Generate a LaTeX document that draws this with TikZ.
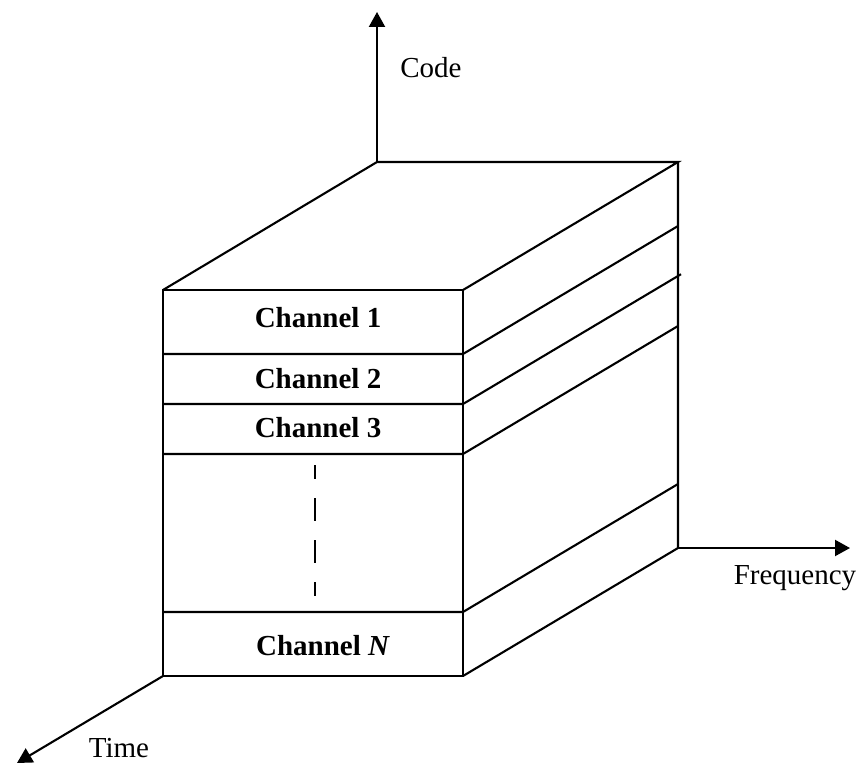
\documentclass[tikz,border=0pt]{standalone}
\usepackage{fontspec}
\setmainfont{Liberation Serif}
\usetikzlibrary{arrows.meta}
\begin{document}
\begin{tikzpicture}[x=0.5pt,y=-0.5pt,
  edge/.style={draw=black, line width=1.05pt, line join=miter},
  axis/.style={edge,-{Triangle[length=7.5pt,width=8pt]}},
  chan/.style={font=\fontsize{14.5}{17}\selectfont\bfseries, inner sep=0pt, anchor=base},
  lab/.style={font=\fontsize{14.5}{17}\selectfont, inner sep=0pt, anchor=base},
  dashline/.style={draw=black, line width=1.05pt, dash pattern=on 11.5pt off 9.5pt, dash phase=4.5pt}]
\useasboundingbox (0,0) rectangle (860,764);
% front face corners
\coordinate (FTL) at (163,290);
\coordinate (FTR) at (463,290);
\coordinate (FBL) at (163,676);
\coordinate (FBR) at (463,676);
% back corners
\coordinate (BTL) at (377,162);
\coordinate (BTR) at (678,162);
\coordinate (BBR) at (678,548);
% divider points (front left / front right / back right)
\coordinate (L1) at (163,354); \coordinate (R1) at (463,354); \coordinate (S1) at (678,226);
\coordinate (L2) at (163,404); \coordinate (R2) at (463,404); \coordinate (S2) at (681,274.2);
\coordinate (L3) at (163,454); \coordinate (R3) at (463,454); \coordinate (S3) at (678,326);
\coordinate (L4) at (163,612); \coordinate (R4) at (463,612); \coordinate (S4) at (678,484);
% axis ends
\coordinate (CodeEnd) at (377,12);
\coordinate (FreqEnd) at (850,548);
\coordinate (TimeEnd) at (17,763);
\coordinate (DashTop) at (315,465);
\coordinate (DashBot) at (315,596);

% box
\draw[edge] (FTL) rectangle (FBR);
\draw[edge] (FTL) -- (BTL) -- (BTR) -- (FTR);
\draw[edge] (BTR) -- (BBR) -- (FBR);
\draw[edge] (L1) -- (R1) -- (S1);
\draw[edge] (L2) -- (R2) -- (S2);
\draw[edge] (L3) -- (R3) -- (S3);
\draw[edge] (L4) -- (R4) -- (S4);
\draw[dashline] (DashTop) -- (DashBot);

% axes
\draw[axis] (BTL) -- (CodeEnd);
\draw[axis] (BBR) -- (FreqEnd);
\draw[axis] (FBL) -- (TimeEnd);

% labels
\node[lab] (code) at (431,78) {Code};
\node[lab] (freq) at (795,584) {Frequency};
\node[lab] (time) at (119,757) {Time};
\node[chan] (ch1) at (318,327) {Channel 1};
\node[chan] (ch2) at (318,388) {Channel 2};
\node[chan] (ch3) at (318,437) {Channel 3};
\node[chan] (chN) at (323,655) {Channel \textit{N}};
\end{tikzpicture}
\end{document}
